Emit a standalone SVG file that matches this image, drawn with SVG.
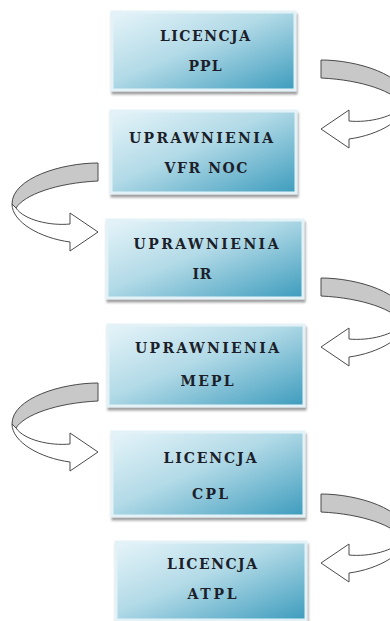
<svg xmlns="http://www.w3.org/2000/svg" xmlns:xlink="http://www.w3.org/1999/xlink" width="390" height="621" viewBox="0 0 390 621">
  <style>
    .box { fill: url(#boxFill); stroke: #e3f2f7; stroke-width: 3; filter: url(#shadow); }
    .lbl { font-family: "DejaVu Serif", "Liberation Serif", serif; font-weight: bold; font-size: 14px; fill: #1c1f2a; text-anchor: middle; }
    .back { fill: #c8c8c8; stroke: #4a4a4a; stroke-width: 1; stroke-linejoin: round; }
    .front { fill: #ffffff; stroke: #4a4a4a; stroke-width: 1; stroke-linejoin: round; }
  </style>
  <defs>
    <linearGradient id="boxFill" x1="0" y1="0" x2="1" y2="1">
      <stop offset="0" stop-color="#e6f4f9"/>
      <stop offset="0.45" stop-color="#b2dae7"/>
      <stop offset="1" stop-color="#3d9cbd"/>
    </linearGradient>
    <filter id="shadow" x="-10%" y="-10%" width="125%" height="130%">
      <feDropShadow dx="1" dy="3" stdDeviation="1.2" flood-color="#505050" flood-opacity="0.55"/>
    </filter>
    <!-- U-turn ribbon arrow, tip at the origin, pointing right -->
    <g id="turn">
      <path class="back" d="M0,-69 C-36,-69 -86,-54 -86,-28 L-82,-24 C-74,-37 -42,-49 0,-51 Z"/>
      <path class="front" d="M-86,-28 C-86,-10 -58,6 -28,10 L-28,19 L0,0 L-28,-19 L-28,-8 C-48,-6 -74,-12 -82,-24 Z"/>
    </g>
  </defs>

  <rect width="390" height="621" fill="#ffffff"/>

  <g id="connectors">
    <use xlink:href="#turn" transform="translate(321,129) scale(-1,1)"/>
    <use xlink:href="#turn" transform="translate(98,232)"/>
    <use xlink:href="#turn" transform="translate(321,347) scale(-1,1)"/>
    <use xlink:href="#turn" transform="translate(98,452)"/>
    <use xlink:href="#turn" transform="translate(321,563) scale(-1,1)"/>
  </g>

  <g id="ppl">
    <rect class="box" x="112" y="12" width="183" height="78"/>
    <text class="lbl" x="205" y="41" textLength="90" lengthAdjust="spacing">LICENCJA</text>
    <text class="lbl" x="205" y="71" textLength="33" lengthAdjust="spacing">PPL</text>
  </g>

  <g id="vfr-noc">
    <rect class="box" x="111" y="111" width="185" height="82"/>
    <text class="lbl" x="201" y="143" textLength="144" lengthAdjust="spacing">UPRAWNIENIA</text>
    <text class="lbl" x="206" y="173" textLength="83" lengthAdjust="spacing">VFR NOC</text>
  </g>

  <g id="ir">
    <rect class="box" x="107" y="220" width="196" height="78"/>
    <text class="lbl" x="206" y="249" textLength="145" lengthAdjust="spacing">UPRAWNIENIA</text>
    <text class="lbl" x="202" y="279" textLength="19" lengthAdjust="spacing">IR</text>
  </g>

  <g id="mepl">
    <rect class="box" x="108" y="325" width="196" height="81"/>
    <text class="lbl" x="207" y="353" textLength="144" lengthAdjust="spacing">UPRAWNIENIA</text>
    <text class="lbl" x="207" y="386" textLength="53" lengthAdjust="spacing">MEPL</text>
  </g>

  <g id="cpl">
    <rect class="box" x="112" y="432" width="192" height="84"/>
    <text class="lbl" x="210" y="463" textLength="93" lengthAdjust="spacing">LICENCJA</text>
    <text class="lbl" x="210" y="499" textLength="36" lengthAdjust="spacing">CPL</text>
  </g>

  <g id="atpl">
    <rect class="box" x="116" y="542" width="190" height="78"/>
    <text class="lbl" x="212" y="569" textLength="90" lengthAdjust="spacing">LICENCJA</text>
    <text class="lbl" x="212" y="599" textLength="49" lengthAdjust="spacing">ATPL</text>
  </g>
</svg>
